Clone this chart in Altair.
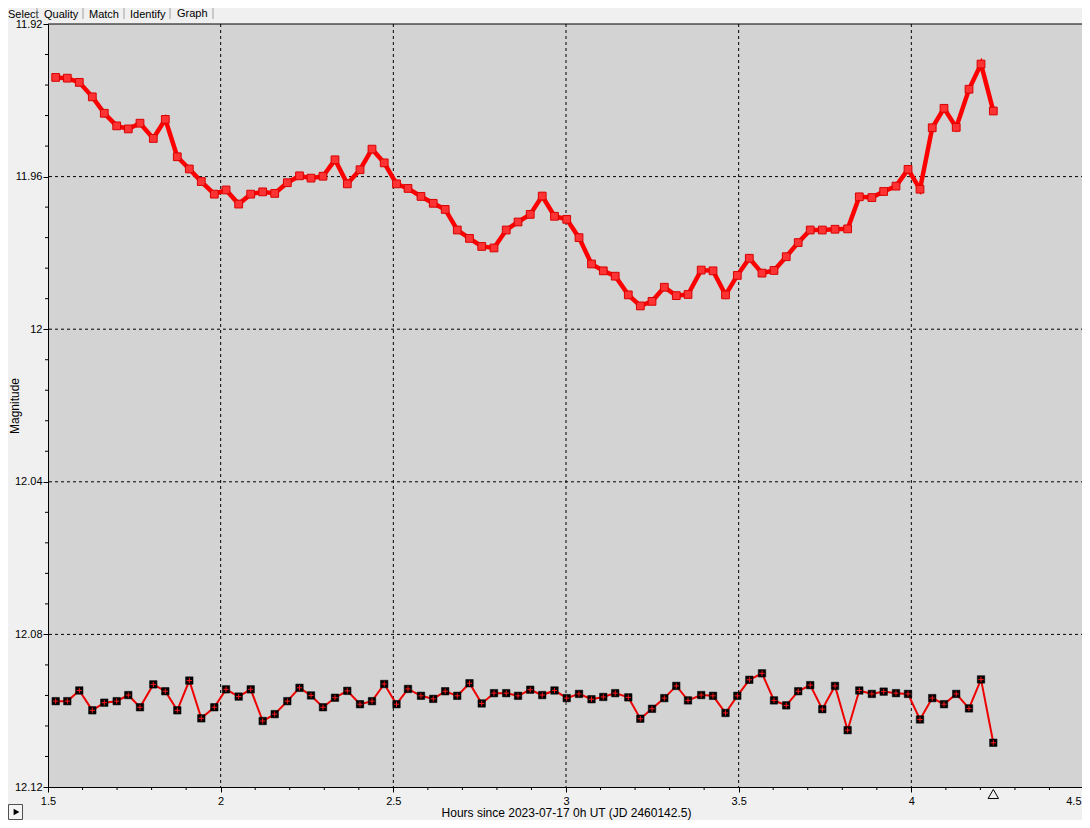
import altair as alt
import pandas as pd

# ---------------- data ----------------
hours = [1.5223, 1.5559, 1.5906, 1.6283, 1.6630, 1.6989, 1.7325, 1.7664, 1.8049, 1.8397,
         1.8744, 1.9092, 1.9439, 1.9816, 2.0155, 2.0522, 2.0870, 2.1217, 2.1565, 2.1930,
         2.2283, 2.2616, 2.2963, 2.3311, 2.3667, 2.4035, 2.4382, 2.4736, 2.5092, 2.5425,
         2.5801, 2.6155, 2.6502, 2.6852, 2.7206, 2.7559, 2.7915, 2.8269, 2.8611, 2.8964,
         2.9311, 2.9667, 3.0021, 3.0377, 3.0739, 3.1080, 3.1425, 3.1804, 3.2152, 3.2491,
         3.2847, 3.3194, 3.3533, 3.3915, 3.4257, 3.4619, 3.4961, 3.5308, 3.5676, 3.6023,
         3.6377, 3.6724, 3.7072, 3.7422, 3.7790, 3.8156, 3.8493, 3.8857, 3.9199, 3.9556,
         3.9904, 4.0251, 4.0605, 4.0946, 4.1300, 4.1670, 4.2018, 4.2374]

target_mag = [11.9340, 11.9342, 11.9353, 11.9391, 11.9434, 11.9467, 11.9475, 11.9460, 11.9500, 11.9450,
              11.9548, 11.9580, 11.9613, 11.9646, 11.9635, 11.9672, 11.9646, 11.9640, 11.9644, 11.9616,
              11.9598, 11.9604, 11.9599, 11.9556, 11.9619, 11.9582, 11.9528, 11.9564, 11.9619, 11.9631,
              11.9652, 11.9670, 11.9686, 11.9740, 11.9762, 11.9783, 11.9787, 11.9740, 11.9719, 11.9699,
              11.9651, 11.9704, 11.9712, 11.9760, 11.9829, 11.9847, 11.9861, 11.9910, 11.9939, 11.9927,
              11.9890, 11.9912, 11.9909, 11.9845, 11.9847, 11.9910, 11.9859, 11.9814, 11.9853, 11.9846,
              11.9810, 11.9773, 11.9740, 11.9740, 11.9738, 11.9737, 11.9653, 11.9655, 11.9639, 11.9625,
              11.9581, 11.9633, 11.9472, 11.9421, 11.9471, 11.9371, 11.9305, 11.9428]

comp_mag = [12.0975, 12.0975, 12.0947, 12.0999, 12.0979, 12.0975, 12.0959, 12.0991, 12.0931, 12.0949,
            12.0999, 12.0921, 12.1020, 12.0991, 12.0944, 12.0963, 12.0944, 12.1027, 12.1009, 12.0975,
            12.0940, 12.0960, 12.0991, 12.0966, 12.0948, 12.0983, 12.0975, 12.0930, 12.0983, 12.0943,
            12.0961, 12.0969, 12.0949, 12.0961, 12.0928, 12.0981, 12.0954, 12.0954, 12.0961, 12.0945,
            12.0959, 12.0947, 12.0967, 12.0956, 12.0970, 12.0964, 12.0954, 12.0965, 12.1021, 12.0995,
            12.0967, 12.0935, 12.0973, 12.0959, 12.0961, 12.1006, 12.0961, 12.0919, 12.0902, 12.0973,
            12.0986, 12.0949, 12.0933, 12.0996, 12.0935, 12.1051, 12.0947, 12.0956, 12.0950, 12.0954,
            12.0956, 12.1023, 12.0967, 12.0983, 12.0956, 12.0994, 12.0918, 12.1084]

x_major = [1.5, 2, 2.5, 3, 3.5, 4, 4.5]
x_grid = [2, 2.5, 3, 3.5, 4]
x_minor = [1.6, 1.7, 1.8, 1.9, 2.1, 2.2, 2.3, 2.4, 2.6, 2.7, 2.8, 2.9, 3.1, 3.2, 3.3, 3.4,
           3.6, 3.7, 3.8, 3.9, 4.1, 4.2, 4.3, 4.4]
y_major = [11.92, 11.96, 12.0, 12.04, 12.08, 12.12]
y_grid = [11.96, 12.0, 12.04, 12.08]
y_minor = [11.928, 11.936, 11.944, 11.952, 11.968, 11.976, 11.984, 11.992,
           12.008, 12.016, 12.024, 12.032, 12.048, 12.056, 12.064, 12.072,
           12.088, 12.096, 12.104, 12.112]
marker_hour = [4.2374]

tabs = ["Select", "Quality", "Match", "Identify", "Graph"]
x_title = "Hours since 2023-07-17 0h UT (JD 2460142.5)"
y_title = "Magnitude"

# ---------------- layout ----------------
W, H = 1036, 763
FONT = "Liberation Sans"
tab_left = [-40, -4, 41, 82, 129]          # px relative to plot left
tab_sep = [-11, 35, 76, 122, 165]

df_t = pd.DataFrame({"hours": hours, "mag": target_mag})
df_c = pd.DataFrame({"hours": hours, "mag": comp_mag})

xscale = alt.Scale(domain=[1.5, 4.5], nice=False, zero=False)
yscale = alt.Scale(domain=[11.92, 12.12], reverse=True, nice=False, zero=False)

common_axis = dict(domainColor="black", tickColor="black", labelColor="black",
                   titleColor="black", labelFont=FONT, titleFont=FONT,
                   labelFontSize=11, titleFontSize=12, titleFontWeight="normal",
                   grid=False, tickSize=5, domainWidth=1, tickWidth=1)

xaxis = alt.Axis(values=x_major, format="~f", title=x_title, labelPadding=3,
                 labelFlush=False, labelOverlap=False, titleY=25,
                 labelAlign={"condition": {"test": "datum.value >= 4.5", "value": "right"},
                             "value": "center"},
                 labelOffset={"condition": {"test": "datum.value >= 4.5", "value": -3},
                              "value": 0},
                 titleBaseline="middle", **common_axis)
yaxis = alt.Axis(values=y_major, format="~f", title=y_title, labelPadding=1,
                 labelFlush=False, labelOverlap=False, titleX=-34, titleY=H / 2,
                 titleAngle=270, titleBaseline="middle", **common_axis)

X = alt.X("hours:Q", scale=xscale, axis=xaxis)
Y = alt.Y("mag:Q", scale=yscale, axis=yaxis)

one = pd.DataFrame({"a": [0]})

# grid
xg = alt.Chart(pd.DataFrame({"hours": x_grid})).mark_rule(
    color="black", strokeWidth=1, strokeDash=[3, 3]).encode(x=X)
yg = alt.Chart(pd.DataFrame({"mag": y_grid})).mark_rule(
    color="black", strokeWidth=1, strokeDash=[3, 3]).encode(y=Y)

# minor ticks
xm = alt.Chart(pd.DataFrame({"hours": x_minor})).mark_rule(color="black", strokeWidth=1).encode(
    x=X, y=alt.value(H), y2=alt.value(H + 3))
ym = alt.Chart(pd.DataFrame({"mag": y_minor})).mark_rule(color="black", strokeWidth=1).encode(
    y=Y, x=alt.value(-3), x2=alt.value(0))

# comparison star
c_line = alt.Chart(df_c).mark_line(color="#ee0000", strokeWidth=2).encode(x=X, y=Y)
c_sq = alt.Chart(df_c).mark_point(shape="square", filled=True, fill="#000000",
                                  stroke="#000000", strokeWidth=0.5, size=56, opacity=1).encode(x=X, y=Y)
c_cross = alt.Chart(df_c).mark_point(shape="M-0.7,0L0.7,0M0,-0.7L0,0.7", filled=False,
                                     stroke="#ff1a1a", strokeWidth=1, size=56, opacity=1).encode(x=X, y=Y)

# target star
t_line = alt.Chart(df_t).mark_line(color="#ff0000", strokeWidth=4.5).encode(x=X, y=Y)
t_sq = alt.Chart(df_t).mark_point(shape="square", filled=True, fill="#ff3333",
                                  stroke="#d80000", strokeWidth=1, size=60, opacity=1).encode(x=X, y=Y)

# marker triangle below the axis
tri = alt.Chart(pd.DataFrame({"hours": marker_hour})).mark_point(
    shape="triangle-up", filled=False, stroke="black", strokeWidth=1, size=110, opacity=1).encode(
    x=X, y=alt.value(H + 7))

# frame
top_border = alt.Chart(one).mark_rule(color="black", strokeWidth=1).encode(
    x=alt.value(0), x2=alt.value(W), y=alt.value(0))
right_border = alt.Chart(one).mark_rule(color="#ffffff", strokeWidth=1).encode(
    x=alt.value(W - 0.5), y=alt.value(0), y2=alt.value(H))

# tab bar
tab_layers = []
for lbl, xl in zip(tabs, tab_left):
    tab_layers.append(alt.Chart(one).mark_text(
        text=lbl, font=FONT, fontSize=11, color="black", align="left", baseline="middle").encode(
        x=alt.value(xl), y=alt.value(-9.5 if lbl != "Graph" else -10.5)))
for xs in tab_sep:
    tab_layers.append(alt.Chart(one).mark_rule(color="#a0a0a0", strokeWidth=1).encode(
        x=alt.value(xs), y=alt.value(-16), y2=alt.value(-5)))

# play button
btn = alt.Chart(one).mark_rect(fill="#f4f4f4", stroke="#505050", strokeWidth=1).encode(
    x=alt.value(-39.5), x2=alt.value(-25.5), y=alt.value(780.5), y2=alt.value(795.5))
btn_tri = alt.Chart(one).mark_point(shape="triangle-right", filled=True, fill="black",
                                    size=45, opacity=1).encode(x=alt.value(-31.5), y=alt.value(788))

chart = alt.layer(
    xg, yg, xm, ym, c_line, c_sq, c_cross, t_line, t_sq, tri, top_border, right_border,
    btn, btn_tri, *tab_layers
).properties(
    width=W, height=H,
    padding={"left": 40, "top": 16, "right": -2, "bottom": 33},
    autosize=alt.AutoSizeParams(type="none"),
    background="#f0f0f0",
).configure_view(fill="#d3d3d3", stroke=None)

chart.save("out.html", embed_options={"renderer": "svg", "actions": False})
